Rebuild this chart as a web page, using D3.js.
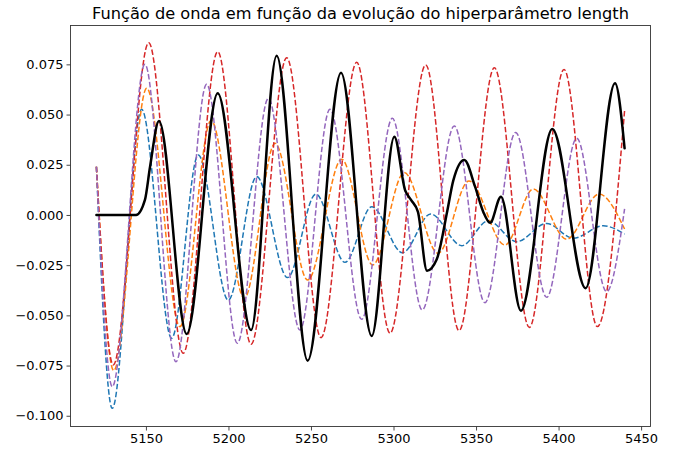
<!DOCTYPE html>
<html>
<head>
<meta charset="utf-8">
<script src="https://cdn.jsdelivr.net/npm/d3@7"></script>
<style>
  html, body { margin: 0; padding: 0; background: #ffffff; }
  svg { display: block; font-family: "DejaVu Sans", sans-serif; }
</style>
</head>
<body>
<svg id="chart" width="674" height="449"></svg>
<script>
// Wave-function curves for several values of the "length" hyperparameter
// (dashed), plus the reference signal (solid black).
// Each series is given by its turning points read at the listed abscissae.

const blueX = [5120, 5129.6, 5147.4, 5165.6, 5181.7, 5199.9, 5217.1, 5235.8, 5252.9, 5270.6,
               5286.8, 5305.5, 5322.5, 5341.3, 5357.4, 5374.6, 5392.8, 5408.9, 5427.1, 5440];
const blueY = [0.024, -0.0963, 0.0526, -0.0614, 0.0299, -0.0424, 0.0191, -0.0312, 0.0104, -0.0236,
               0.0041, -0.0188, 0.0005, -0.0153, -0.0029, -0.0133, -0.0042, -0.0116, -0.0054, -0.0095];

const orangeX = [5120, 5130.5, 5150.5, 5170.6, 5189.5, 5209.6, 5228.2, 5248, 5268.6, 5287.4,
                 5306.5, 5327, 5345.7, 5367.5, 5384.7, 5404.9, 5424.5, 5440];
const orangeY = [0.024, -0.0775, 0.0631, -0.0556, 0.047, -0.0415, 0.0357, -0.0324, 0.0277, -0.0249,
                 0.0211, -0.0191, 0.0169, -0.015, 0.0129, -0.0121, 0.0104, -0.007];

const redX = [5120, 5130.2, 5151.7, 5172.6, 5193.5, 5213.7, 5235.3, 5256.1, 5277.7, 5297.9,
              5319.5, 5339.7, 5361.1, 5382.3, 5403.3, 5423.5, 5440];
const redY = [0.024, -0.0747, 0.0858, -0.0689, 0.0813, -0.0644, 0.0783, -0.0611, 0.076, -0.0589,
              0.0747, -0.0576, 0.0733, -0.056, 0.0725, -0.0556, 0.052];

const purpleX = [5120, 5129.6, 5149.4, 5168.2, 5186.8, 5205.4, 5224.2, 5243.3, 5261.5, 5280.7,
                 5299.3, 5317.4, 5336.8, 5355.4, 5374, 5392.8, 5411, 5429.1, 5440];
const purpleY = [0.024, -0.0855, 0.075, -0.0731, 0.0651, -0.0639, 0.0581, -0.0573, 0.0526, -0.052,
                 0.0481, -0.0473, 0.0443, -0.0437, 0.0411, -0.041, 0.0382, -0.0382, 0.003];

const signalX = [5120, 5144, 5149.4, 5152.5, 5157.9, 5174.7, 5193.5, 5213.7, 5229.2, 5248,
                 5268.2, 5286.8, 5300.5, 5307, 5310.6, 5314.8, 5320.3, 5326.2, 5332.6, 5336.2,
                 5342.9, 5349.4, 5354.4, 5358.5, 5365.1, 5377.2, 5396.2, 5416.4, 5434.2, 5440];
const signalY = [0, 0, 0.0075, 0.024, 0.0468, -0.0593, 0.0606, -0.0573, 0.0793, -0.0726,
                 0.0708, -0.0603, 0.039, 0.0124, 0.0075, 0.0015, -0.0278, -0.0221, 0.0021, 0.0171,
                 0.0274, 0.0141, 0.0015, -0.0039, 0.0091, -0.0477, 0.0428, -0.0365, 0.0656, 0.0332];

const xTicks = [5150, 5200, 5250, 5300, 5350, 5400, 5450];
const yTicks = [-0.100, -0.075, -0.050, -0.025, 0.000, 0.025, 0.050, 0.075];

const titleText = "Função de onda em função da evolução do hiperparâmetro length";

const series = [
  { xs: blueX,   ys: blueY,   color: "#1f77b4", width: 1.5, dash: "5.55,2.4" },
  { xs: orangeX, ys: orangeY, color: "#ff7f0e", width: 1.5, dash: "5.55,2.4" },
  { xs: redX,    ys: redY,    color: "#d62728", width: 1.5, dash: "5.55,2.4" },
  { xs: purpleX, ys: purpleY, color: "#9467bd", width: 1.5, dash: "5.55,2.4" },
  { xs: signalX, ys: signalY, color: "#000000", width: 2.5, dash: null }
];

const plot = { left: 70, right: 651, top: 25, bottom: 427 };

const svg = d3.select("#chart");

const x = d3.scaleLinear().domain([5104, 5456]).range([plot.left, plot.right]);
const y = d3.scaleLinear().domain([-0.1056, 0.0946]).range([plot.bottom, plot.top]);

const line = d3.line()
  .x(d => x(d[0]))
  .y(d => y(d[1]))
  .curve(d3.curveMonotoneX);

svg.append("defs").append("clipPath").attr("id", "plot-clip")
  .append("rect")
  .attr("x", plot.left).attr("y", plot.top)
  .attr("width", plot.right - plot.left).attr("height", plot.bottom - plot.top);

const g = svg.append("g").attr("clip-path", "url(#plot-clip)");

series.forEach(s => {
  const pts = s.xs.map((v, i) => [v, s.ys[i]]);
  g.append("path")
    .datum(pts)
    .attr("d", line)
    .attr("fill", "none")
    .attr("stroke", s.color)
    .attr("stroke-width", s.width)
    .attr("stroke-dasharray", s.dash)
    .attr("stroke-linejoin", "round")
    .attr("stroke-linecap", s.dash ? "butt" : "round");
});

// Frame
svg.append("rect")
  .attr("x", plot.left + 0.5).attr("y", plot.top + 0.5)
  .attr("width", plot.right - plot.left - 1).attr("height", plot.bottom - plot.top - 1)
  .attr("fill", "none").attr("stroke", "#333").attr("stroke-width", 0.9);

const minus = s => s.replace("-", "\u2212");

const xAxis = d3.axisBottom(x)
  .tickValues(xTicks)
  .tickSize(4)
  .tickPadding(3)
  .tickFormat(d3.format("d"));

const yAxis = d3.axisLeft(y)
  .tickValues(yTicks)
  .tickSize(4)
  .tickPadding(3)
  .tickFormat(d => minus(d.toFixed(3)));

const gx = svg.append("g").attr("transform", `translate(0,${plot.bottom - 0.5})`).call(xAxis);
const gy = svg.append("g").attr("transform", `translate(${plot.left + 0.5},0)`).call(yAxis);

[gx, gy].forEach(a => {
  a.select(".domain").remove();
  a.selectAll(".tick line").attr("stroke", "#333").attr("stroke-width", 0.9);
  a.selectAll(".tick text")
    .attr("fill", "#000")
    .style("font-family", "'DejaVu Sans', sans-serif")
    .style("font-size", "13px");
});

svg.append("text")
  .attr("x", (plot.left + plot.right) / 2)
  .attr("y", 19)
  .attr("text-anchor", "middle")
  .style("font-family", "'DejaVu Sans', sans-serif")
  .style("font-size", "16.2px")
  .attr("fill", "#000")
  .text(titleText);
</script>
</body>
</html>
